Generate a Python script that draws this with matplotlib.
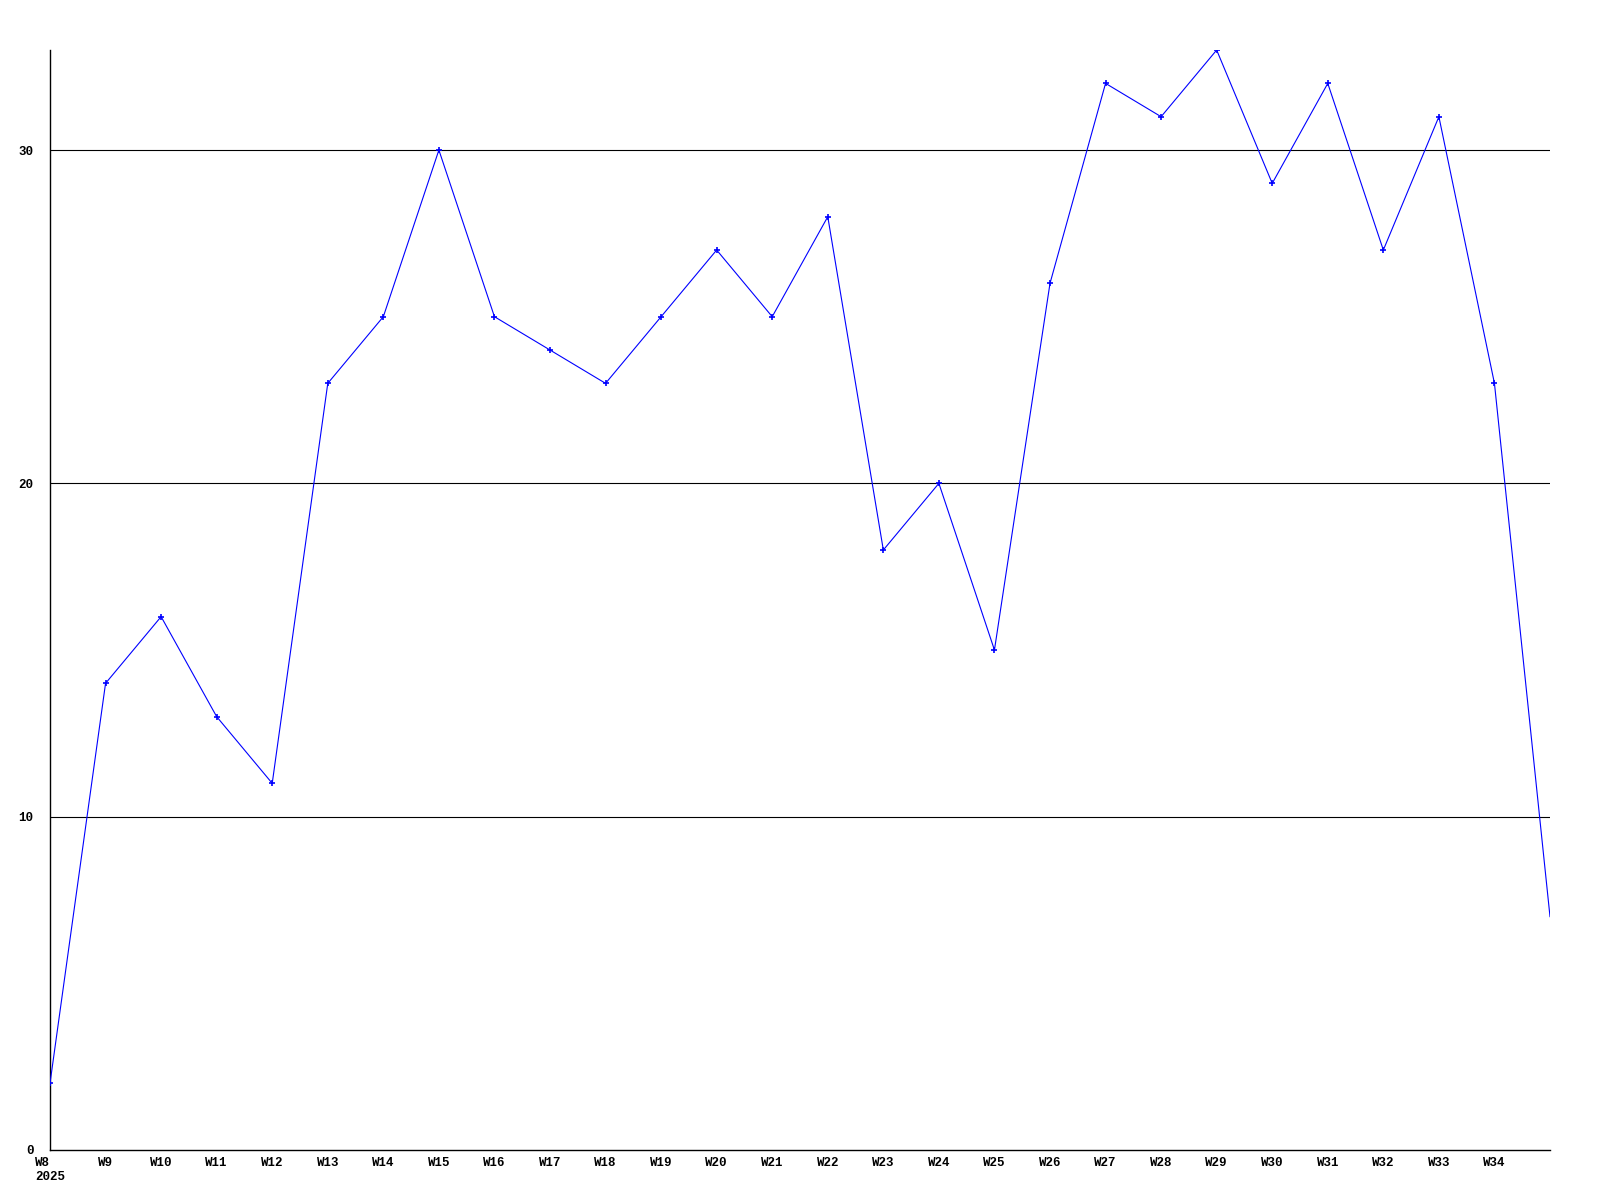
import matplotlib
matplotlib.use("Agg")
import matplotlib.pyplot as plt

# Weekly values
weeks = list(range(8, 36))
values = [2, 14, 16, 13, 11, 23, 25, 30, 25, 24, 23, 25, 27, 25, 28,
          18, 20, 15, 26, 32, 31, 33, 29, 32, 27, 31, 23, 7]
tick_weeks = list(range(8, 35))
tick_labels = ["W%d" % w for w in tick_weeks]
tick_labels[0] = "W8\n2025"
y_ticks = [0, 10, 20, 30]

fig = plt.figure(figsize=(16, 12), dpi=100)
ax = fig.add_axes([0.03125, 0.0417, 0.9375, 0.9166])

# Grid lines at 10, 20, 30
for y in y_ticks[1:]:
    ax.axhline(y, color="black", linewidth=0.8, zorder=1)

# last point (current week) is drawn without a marker
ax.plot(weeks, values, color="#0000ff", linewidth=0.8, marker="+",
        markersize=4, markeredgewidth=1.2, zorder=3,
        markevery=list(range(len(values) - 1)))

ax.set_xlim(8, 35)
ax.set_ylim(0, 33)

font = dict(family="Liberation Mono", weight="bold", size=9)
ax.set_xticks(tick_weeks)
ax.set_xticklabels(tick_labels, ha="center", va="top", linespacing=1.2, **font)
for lbl in ax.get_xticklabels():
    lbl.set_multialignment("left")
ax.set_yticks(y_ticks)
ax.set_yticklabels([str(v) for v in y_ticks], **font)
ax.tick_params(axis="both", length=0)
ax.tick_params(axis="x", pad=5)
ax.tick_params(axis="y", pad=12)

for s in ["top", "right"]:
    ax.spines[s].set_visible(False)
for s in ["left", "bottom"]:
    ax.spines[s].set_linewidth(1)
    ax.spines[s].set_color("black")

fig.savefig("out.png", dpi=100)
